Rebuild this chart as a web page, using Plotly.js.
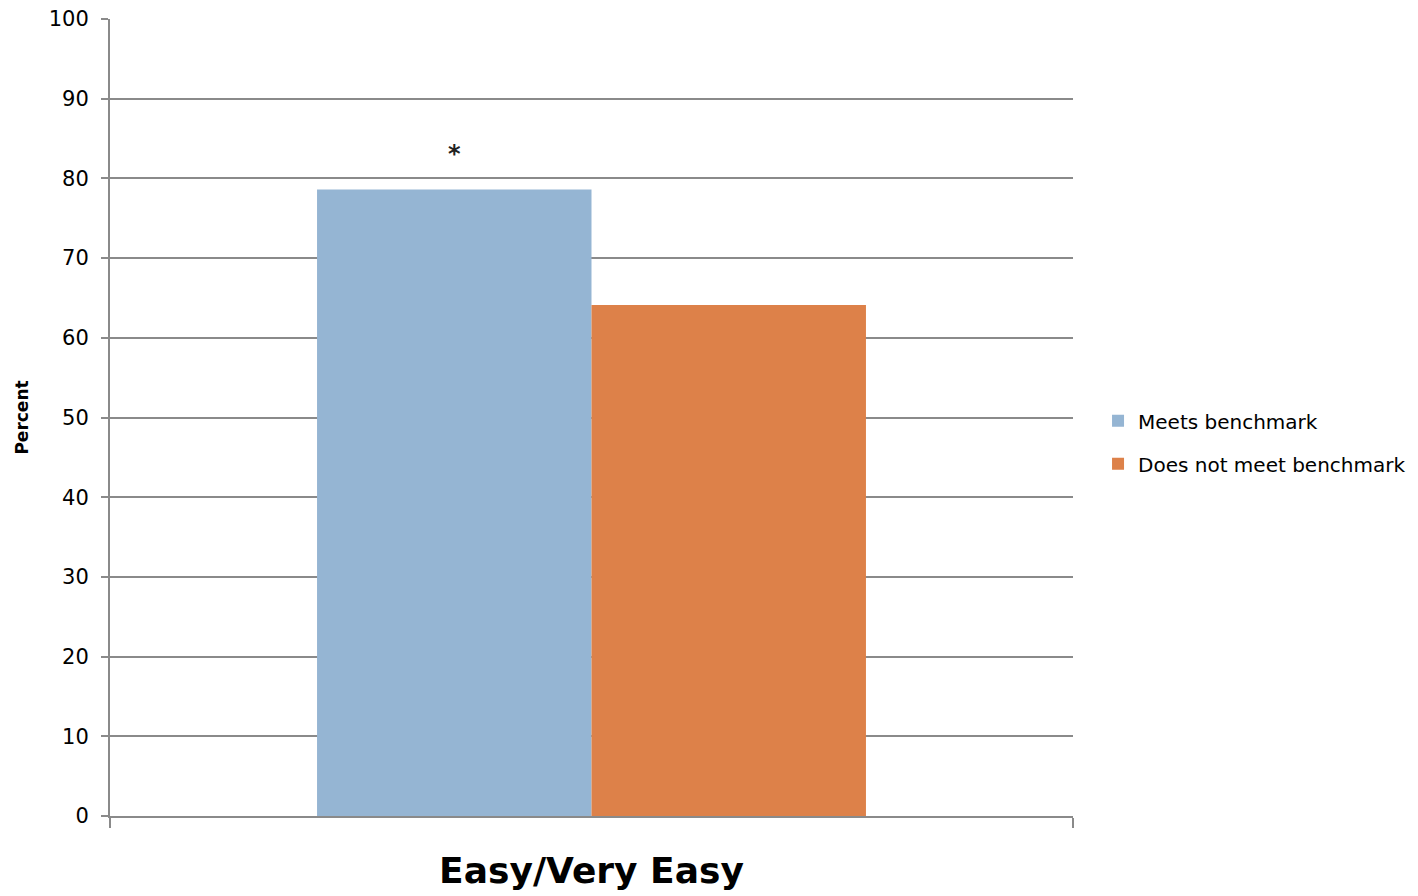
<!DOCTYPE html>
<html>
<head>
<meta charset="utf-8">
<script src="https://cdn.plot.ly/plotly-3.0.1.min.js"></script>
<style>html,body{margin:0;padding:0;background:#fff;}#chart{width:1418px;height:896px;}</style>
</head>
<body>
<div id="chart"></div>
<script>
const categories = ["Easy/Very Easy"];
const seriesNames = ["Meets benchmark", "Does not meet benchmark"];
const meetsValues = [78.6];
const doesNotMeetValues = [64.1];
const significanceMarks = ["*"];
const yTickValues = [0, 10, 20, 30, 40, 50, 60, 70, 80, 90, 100];

const FONT = "DejaVu Sans, Liberation Sans, sans-serif";

const traces = [
  {type: "bar", name: seriesNames[0], x: categories, y: meetsValues,
   marker: {color: "#95b5d3"}, legendgroup: "a"},
  {type: "bar", name: seriesNames[1], x: categories, y: doesNotMeetValues,
   marker: {color: "#dd8149"}, legendgroup: "b"}
];

const bargap = 0.43;
const barWidth = (1 - bargap) / 2;
const annotations = significanceMarks.map((m, i) => ({
  x: i - barWidth / 2, y: meetsValues[i] + 4.5, xref: "x", yref: "y",
  text: m, showarrow: false, font: {family: FONT, size: 24, color: "#222", weight: "bold"}
}));

const layout = {
  width: 1418, height: 896,
  margin: {l: 110, r: 345, t: 19, b: 80, autoexpand: false},
  paper_bgcolor: "#fff", plot_bgcolor: "#fff",
  barmode: "group", bargap: bargap, bargroupgap: 0,
  font: {family: FONT, color: "#000"},
  xaxis: {
    showline: true, linecolor: "#8a8a8a", linewidth: 2,
    ticks: "outside", tickson: "boundaries", ticklen: 10, tickcolor: "#8a8a8a", tickwidth: 2,
    tickfont: {family: FONT, size: 36, color: "#000", weight: "bold"},
    ticklabelstandoff: 22,
    showgrid: false
  },
  yaxis: {
    range: [0, 100], tickvals: yTickValues, ticks: "outside", ticklen: 7,
    tickcolor: "#8a8a8a", tickwidth: 2,
    showline: true, linecolor: "#8a8a8a", linewidth: 2,
    showgrid: true, gridcolor: "#8a8a8a", gridwidth: 2, zeroline: false,
    tickfont: {family: FONT, size: 21, color: "#000"},
    ticklabelstandoff: 8,
    title: {text: "Percent", font: {family: FONT, size: 17, color: "#000", weight: "bold"}, standoff: 16}
  },
  legend: {x: 1.026, y: 0.469, xanchor: "left", yanchor: "middle",
    font: {family: FONT, size: 20, color: "#000"}, tracegroupgap: 14,
    itemwidth: 30},
  annotations: annotations,
  showlegend: true
};

Plotly.newPlot("chart", traces, layout, {displayModeBar: false, staticPlot: true});
</script>
</body>
</html>
